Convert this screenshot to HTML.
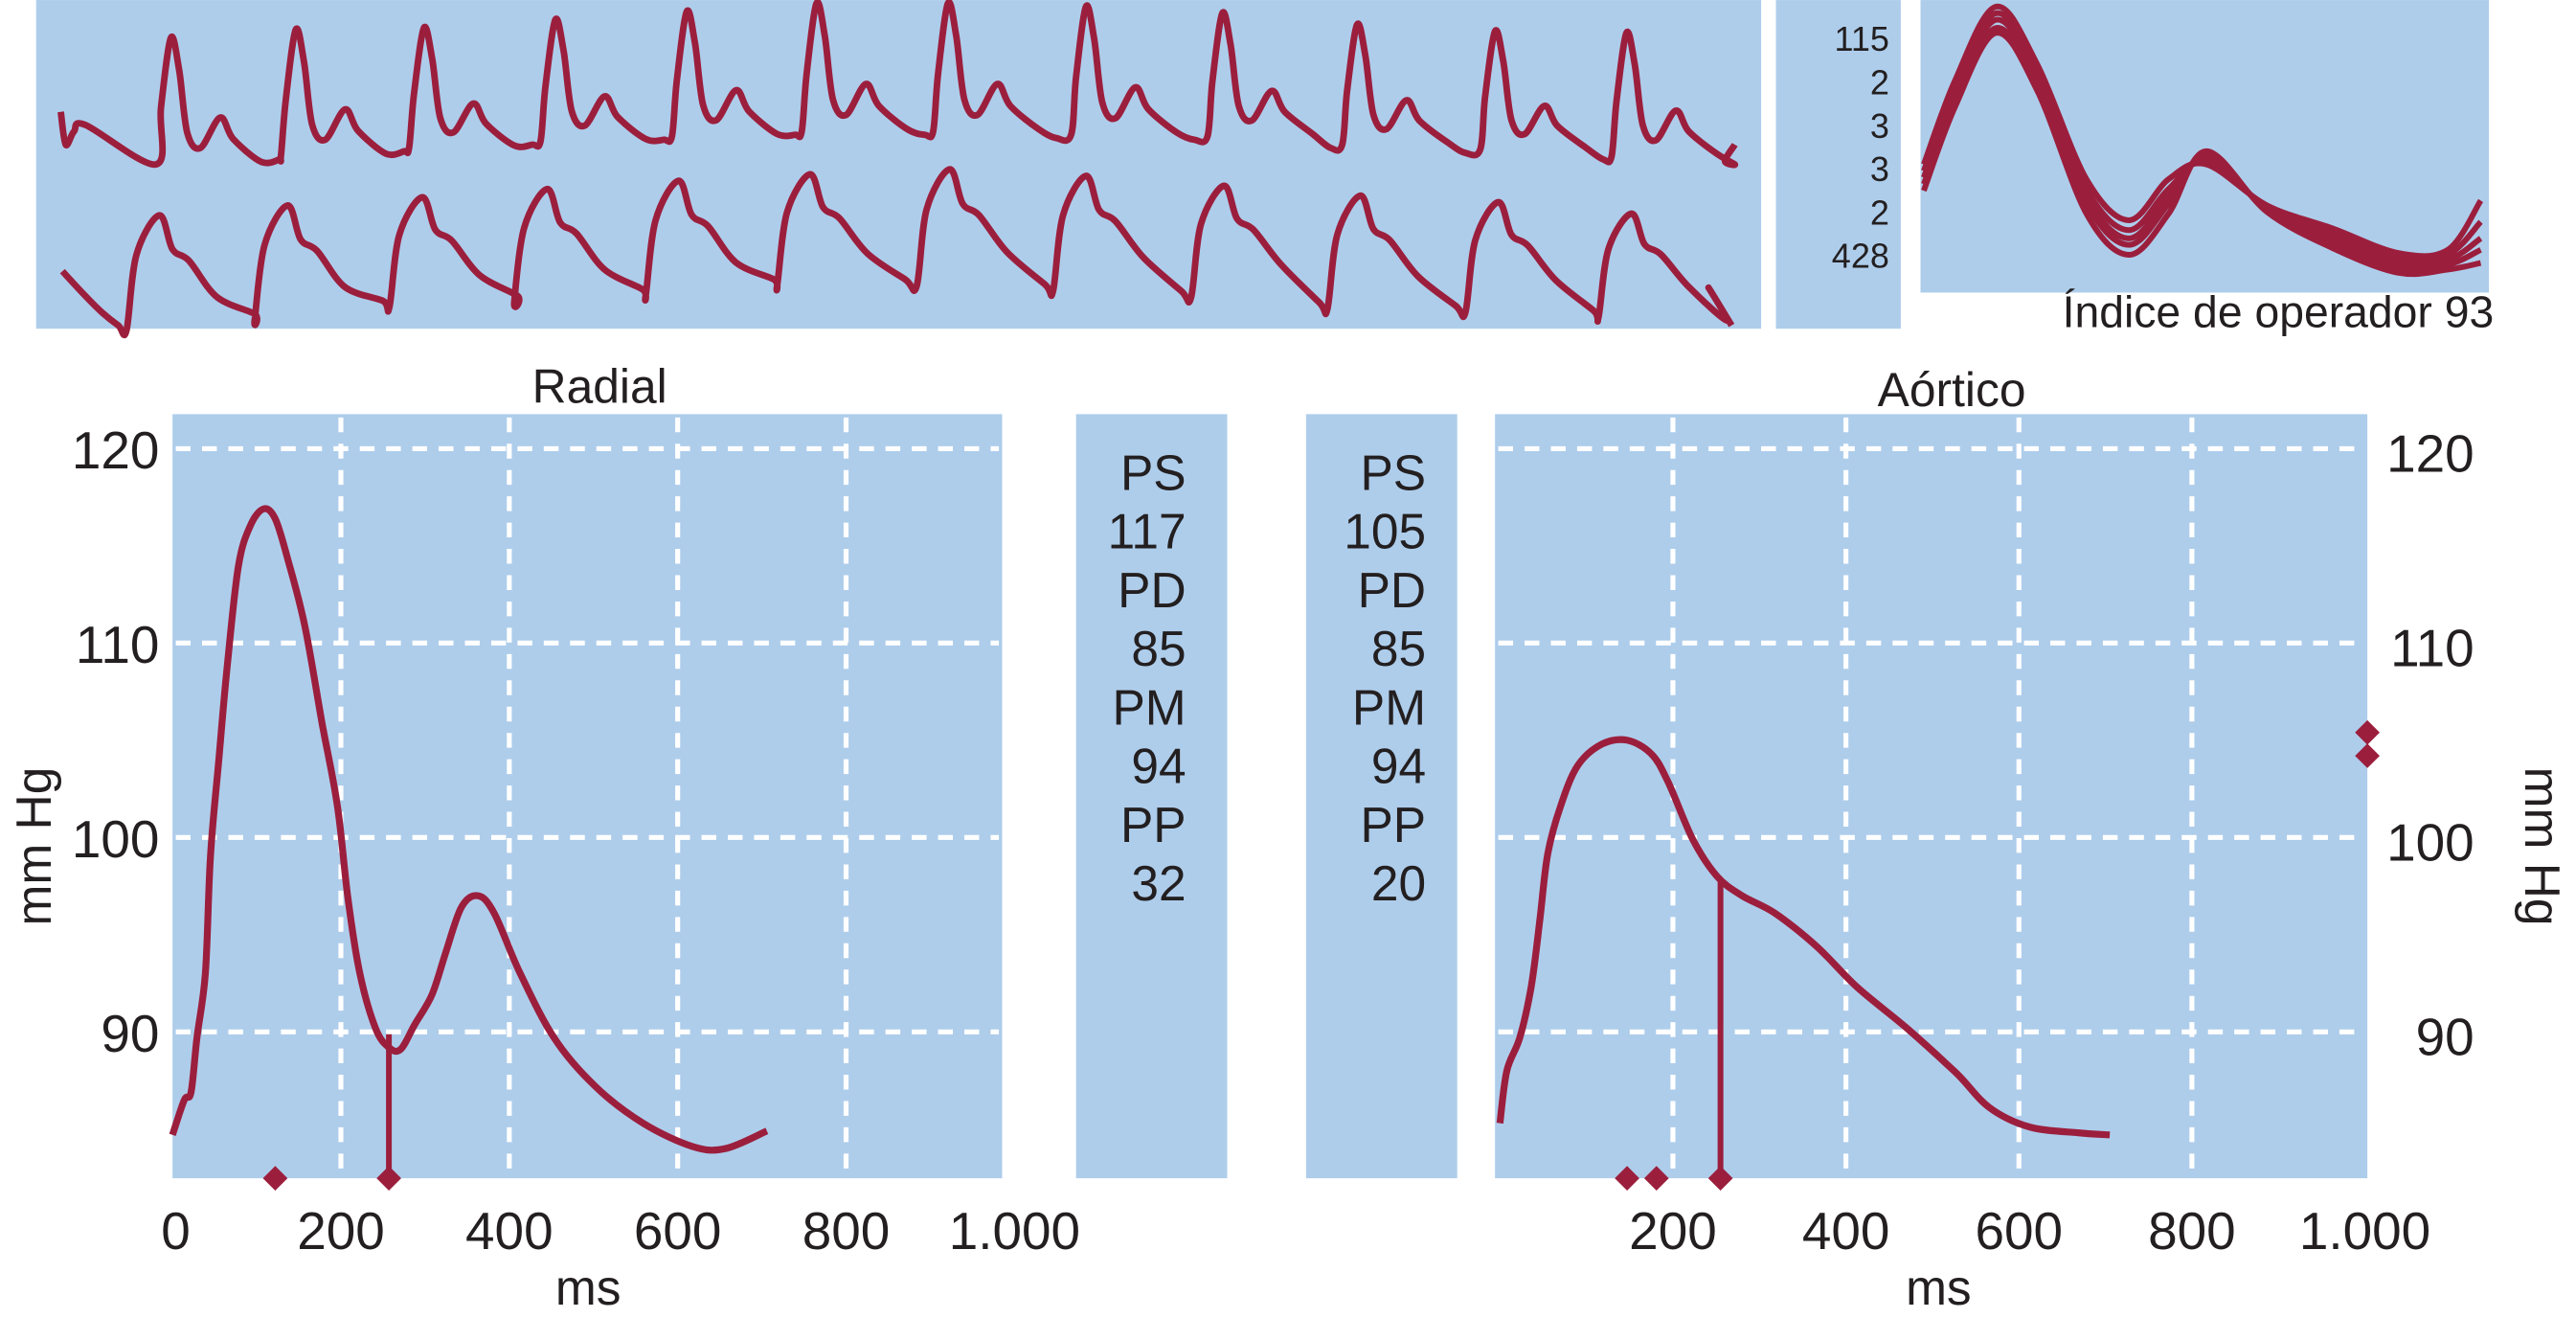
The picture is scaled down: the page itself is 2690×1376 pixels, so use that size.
<!DOCTYPE html>
<html><head><meta charset="utf-8"><style>
html,body{margin:0;padding:0;background:#fff;}
svg{display:block;}
text{font-family:"Liberation Sans Narrow","Liberation Sans",sans-serif;fill:#231f20;}
</style></head><body>
<svg id="fig" width="2690" height="1376" viewBox="0 0 1568 802" xmlns="http://www.w3.org/2000/svg">
<rect x="22" y="0" width="1050" height="200" fill="#aecdeb"/>
<rect x="1081" y="0" width="76" height="200" fill="#aecdeb"/>
<rect x="1169" y="0" width="346" height="178" fill="#aecdeb"/>
<rect x="105" y="252" width="505" height="465" fill="#aecdeb"/>
<rect x="655" y="252" width="92" height="465" fill="#aecdeb"/>
<rect x="795" y="252" width="92" height="465" fill="#aecdeb"/>
<rect x="910" y="252" width="531" height="465" fill="#aecdeb"/>
<g id="grid"></g>
<g id="marks"></g>
<g id="labels"></g>
<text x="1518" y="199" font-size="27" text-anchor="end">Índice de operador 93</text>
<text x="365" y="245" font-size="29" text-anchor="middle">Radial</text>
<text x="1188" y="247" font-size="29" text-anchor="middle">Aórtico</text>
<text transform="translate(31,515) rotate(-90)" font-size="30" text-anchor="middle">mm Hg</text>
<text transform="translate(1537,515) rotate(90)" font-size="30" text-anchor="middle">mm Hg</text>
<text x="358" y="794" font-size="30" text-anchor="middle">ms</text>
<text x="1180" y="794" font-size="30" text-anchor="middle">ms</text>
</svg>
<script>
// ---- data ----
const yTicks = [90, 100, 110, 120];
const xTicksRadial = [0, 200, 400, 600, 800, 1000];
const xTickLabelsRadial = ["0", "200", "400", "600", "800", "1.000"];
const xTicksAortic = [200, 400, 600, 800, 1000];
const xTickLabelsAortic = ["200", "400", "600", "800", "1.000"];
const radialMs = [0,14,22,29,39,45,55,65,78,92,108,122,137,157,178,196,208,222,241,257,271,288,308,324,343,363,382,412,453,502,559,618,657,706];
const radialP = [84.7,86.5,86.9,89.7,93,99,104,108.8,113.9,116,116.9,116.4,114.3,110.9,105.8,101.6,97,93.1,90.2,89.2,89.1,90.4,91.9,94,96.4,97,96.1,93.1,89.7,87.2,85.3,84.1,84,84.9];
const radialMarkersMs = [122, 257];
const radialNotchMs = 257;
const aorticMs = [0,8,23,36,46,55,70,90,118,147,175,194,223,251,280,318,366,413,470,527,566,613,670,705];
const aorticP = [85.3,88,89.7,92.3,95.7,99.1,101.6,103.7,104.8,105,104.3,102.9,99.9,98,97,96.1,94.4,92.3,90.2,87.9,86.1,85.1,84.8,84.7];
const aorticMarkersMs = [147, 181, 255];
const aorticNotchMs = 255;
const aorticSideMarkersP = [105.4, 104.2];
const radialStats = ["PS","117","PD","85","PM","94","PP","32"];
const aorticStats = ["PS","105","PD","85","PM","94","PP","20"];
const stripStats = ["115","2","3","3","2","428"];
// strip beats (pixel-level readings of strip trace)
const topPeakX = [104,180,258,338,418,497,577,661,744,826,910,990];
const topPeakY = [23,18,17,12,7,2,2,4,8,15,19,20];
const topBaseY = [100,95,90,86,83,80,80,82,83,88,91,95];
const botPeakX = [97,175,257,333,413,493,578,661,745,828,912,993];
const botPeakY = [131,125,120,115,110,106,103,107,113,119,123,130];
const botBaseY = [200,194,186,183,179,173,173,176,180,187,189,192];
const ovPeakY = [4,8,12,17,20];
const ovTroughY = [134,140,145,149,155];
const ovMinY = [154,157,160,163,166];
const ovEndY = [122,135,145,152,160];

// ---- helpers ----
const NS = "http://www.w3.org/2000/svg";
const RED = "#9b1f3d";
function mk(tag, parent, attrs){const e=document.createElementNS(NS,tag);for(const k in attrs)e.setAttribute(k,attrs[k]);parent.appendChild(e);return e;}
function smooth(pts){let d="M"+pts[0][0]+","+pts[0][1];for(let i=0;i<pts.length-1;i++){const p0=pts[Math.max(0,i-1)],p1=pts[i],p2=pts[i+1],p3=pts[Math.min(pts.length-1,i+2)];const c1=[p1[0]+(p2[0]-p0[0])/6,p1[1]+(p2[1]-p0[1])/6],c2=[p2[0]-(p3[0]-p1[0])/6,p2[1]-(p3[1]-p1[1])/6];d+=" C"+c1[0].toFixed(1)+","+c1[1].toFixed(1)+" "+c2[0].toFixed(1)+","+c2[1].toFixed(1)+" "+p2[0].toFixed(1)+","+p2[1].toFixed(1);}return d;}
const yScale = p => 273 + (120 - p) * 11.83;
const xRad = ms => 105 + ms * 0.5125;
const xAor = ms => 913 + ms * 0.5265;
const grid = document.getElementById("grid"), marks = document.getElementById("marks"), labels = document.getElementById("labels");

// grids
yTicks.forEach(v=>{
  let l=mk("line",grid,{x1:107,x2:608,y1:yScale(v),y2:yScale(v),stroke:"#fff","stroke-width":3,"stroke-dasharray":"9 7"});
  
  
  l=mk("line",grid,{x1:912,x2:1439,y1:yScale(v),y2:yScale(v),stroke:"#fff","stroke-width":3,"stroke-dasharray":"9 7"});
  
  
  let t=mk("text",labels,{x:97,y:yScale(v)+12,"font-size":32,"text-anchor":"end"});t.textContent=v;
  
  
  t=mk("text",labels,{x:1506,y:yScale(v)+14,"font-size":32,"text-anchor":"end"});t.textContent=v;
  
  
});
xTicksRadial.forEach((v,i)=>{
  if(v>0&&v<1000){const l=mk("line",grid,{x1:xRad(v),x2:xRad(v),y1:254,y2:716,stroke:"#fff","stroke-width":3,"stroke-dasharray":"9 7"});
  
  }
  const t=mk("text",labels,{x:xRad(v)+(v===0?2:0),y:760,"font-size":32,"text-anchor":"middle"});t.textContent=xTickLabelsRadial[i];
  
  
});
xTicksAortic.forEach((v,i)=>{
  if(v<1000){const l=mk("line",grid,{x1:xAor(v),x2:xAor(v),y1:254,y2:716,stroke:"#fff","stroke-width":3,"stroke-dasharray":"9 7"});
  
  }
  const t=mk("text",labels,{x:xAor(v),y:760,"font-size":32,"text-anchor":"middle"});t.textContent=xTickLabelsAortic[i];
  
  
});
// stats
radialStats.forEach((s,i)=>{const t=mk("text",labels,{x:722,y:298+i*35.7,"font-size":30,"text-anchor":"end"});t.textContent=s;
  
  });
aorticStats.forEach((s,i)=>{const t=mk("text",labels,{x:868,y:298+i*35.7,"font-size":30,"text-anchor":"end"});t.textContent=s;
  
  });
stripStats.forEach((s,i)=>{const t=mk("text",labels,{x:1150,y:31+i*26.4,"font-size":21,"text-anchor":"end"});t.textContent=s;
  
  });

function diamond(x,y,name){const p=mk("path",marks,{d:`M${x},${y-7.5} L${x+7.5},${y} L${x},${y+7.5} L${x-7.5},${y} Z`,fill:RED});
  
  }
function interp(msArr,pArr,ms){for(let i=0;i<msArr.length-1;i++){if(ms>=msArr[i]&&ms<=msArr[i+1]){const f=(ms-msArr[i])/(msArr[i+1]-msArr[i]);return pArr[i]+f*(pArr[i+1]-pArr[i]);}}return pArr[pArr.length-1];}

// radial curve
let c=mk("path",marks,{d:smooth(radialMs.map((m,i)=>[xRad(m),yScale(radialP[i])])),fill:"none",stroke:RED,"stroke-width":4.2,"stroke-linejoin":"round"});


c=mk("line",marks,{x1:xRad(radialNotchMs),x2:xRad(radialNotchMs),y1:yScale(interp(radialMs,radialP,radialNotchMs))-8,y2:717,stroke:RED,"stroke-width":3.5});


radialMarkersMs.forEach(m=>diamond(xRad(m),717,'radial-time-marker'));
// aortic
c=mk("path",marks,{d:smooth(aorticMs.map((m,i)=>[xAor(m),yScale(aorticP[i])])),fill:"none",stroke:RED,"stroke-width":4.2,"stroke-linejoin":"round"});


c=mk("line",marks,{x1:xAor(aorticNotchMs),x2:xAor(aorticNotchMs),y1:yScale(interp(aorticMs,aorticP,aorticNotchMs)),y2:717,stroke:RED,"stroke-width":3.5});


aorticMarkersMs.forEach(m=>diamond(xAor(m),717,'aortic-time-marker'));
aorticSideMarkersP.forEach(p=>diamond(1441,yScale(p),'aortic-pressure-marker'));

// strip top row
let pts=[[37,68]];
topPeakX.forEach((px,i)=>{
  const b=topBaseY[i],p=topPeakY[i],h=b-p;
  const nb=i<topBaseY.length-1?topBaseY[i+1]:98;
  if(i===0){pts.push([40,88],[45,80],[52,76]);}
  pts.push([px-9,b],[px-6,b-0.45*h],[px,p],[px+5,p+0.25*h],[px+10,b-0.25*h],[px+18,b-0.13*h],[px+30,b-0.37*h],[px+38,b-0.2*h],[px+55,b-0.02*h],[px+66,nb+2]);
});
pts.push([1050,98],[1056,88]);
c=mk("path",marks,{d:smooth(pts),fill:"none",stroke:RED,"stroke-width":4});


// strip bottom row
pts=[[38,165],[50,178],[62,190],[72,198]];
botPeakX.forEach((px,i)=>{
  const b=botBaseY[i],p=botPeakY[i],h=b-p;
  const nb=i<botBaseY.length-1?botBaseY[i+1]:198;
  pts.push([px-20,b+1],[px-14,p+0.35*h],[px,p],[px+8,p+0.3*h],[px+18,p+0.4*h],[px+35,p+0.72*h],[px+58,nb-3]);
});
pts.push([1040,175],[1054,198]);
c=mk("path",marks,{d:smooth(pts),fill:"none",stroke:RED,"stroke-width":4});


// overlay beats
ovPeakY.forEach((p,i)=>{
  const t=ovTroughY[i],m=ovMinY[i],e=ovEndY[i];
  const bp=100-i*2;
  const q=[[1171,100+i*4],[1190,45+p],[1215,p],[1240,35+p],[1270,t-25],[1296,t],[1320,t-25],[1343,bp],[1380,bp+25+i*3],[1420,m-15],[1460,m],[1490,m-2],[1510,e]];
  const cc=mk("path",marks,{d:smooth(q),fill:"none",stroke:RED,"stroke-width":3.5});
  
  
});
</script>
</body></html>
